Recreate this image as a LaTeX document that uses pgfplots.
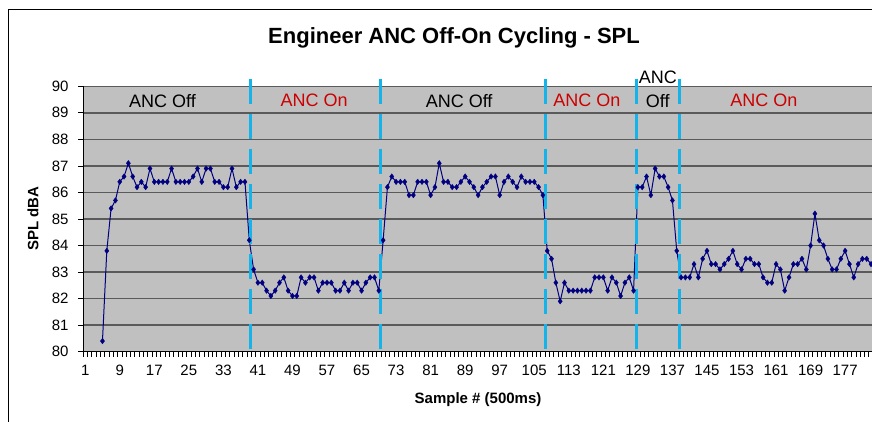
\documentclass[border=0pt]{standalone}
\usepackage{pgfplots}
\usepackage{pgfplotstable}
\pgfplotsset{compat=1.18}
\usepackage{fontspec}
\setmainfont{Liberation Sans}
\definecolor{bggray}{RGB}{192,192,192}
\definecolor{gridc}{RGB}{90,90,90}
\definecolor{navyc}{RGB}{0,0,128}
\definecolor{dashc}{RGB}{20,180,235}
\definecolor{redc}{RGB}{204,0,0}
\pgfplotstableread{
x y
5 80.4
6 83.8
7 85.4
8 85.7
9 86.4
10 86.6
11 87.1
12 86.6
13 86.2
14 86.4
15 86.2
16 86.9
17 86.4
18 86.4
19 86.4
20 86.4
21 86.9
22 86.4
23 86.4
24 86.4
25 86.4
26 86.6
27 86.9
28 86.4
29 86.9
30 86.9
31 86.4
32 86.4
33 86.2
34 86.2
35 86.9
36 86.2
37 86.4
38 86.4
39 84.2
40 83.1
41 82.6
42 82.6
43 82.3
44 82.1
45 82.3
46 82.6
47 82.8
48 82.3
49 82.1
50 82.1
51 82.8
52 82.6
53 82.8
54 82.8
55 82.3
56 82.6
57 82.6
58 82.6
59 82.3
60 82.3
61 82.6
62 82.3
63 82.6
64 82.6
65 82.3
66 82.6
67 82.8
68 82.8
69 82.3
70 84.2
71 86.2
72 86.6
73 86.4
74 86.4
75 86.4
76 85.9
77 85.9
78 86.4
79 86.4
80 86.4
81 85.9
82 86.2
83 87.1
84 86.4
85 86.4
86 86.2
87 86.2
88 86.4
89 86.6
90 86.4
91 86.2
92 85.9
93 86.2
94 86.4
95 86.6
96 86.6
97 85.9
98 86.4
99 86.6
100 86.4
101 86.2
102 86.6
103 86.4
104 86.4
105 86.4
106 86.2
107 85.9
108 83.8
109 83.5
110 82.6
111 81.9
112 82.6
113 82.3
114 82.3
115 82.3
116 82.3
117 82.3
118 82.3
119 82.8
120 82.8
121 82.8
122 82.3
123 82.8
124 82.6
125 82.1
126 82.6
127 82.8
128 82.3
129 86.2
130 86.2
131 86.6
132 85.9
133 86.9
134 86.6
135 86.6
136 86.2
137 85.7
138 83.8
139 82.8
140 82.8
141 82.8
142 83.3
143 82.8
144 83.5
145 83.8
146 83.3
147 83.3
148 83.1
149 83.3
150 83.5
151 83.8
152 83.3
153 83.1
154 83.5
155 83.5
156 83.3
157 83.3
158 82.8
159 82.6
160 82.6
161 83.3
162 83.1
163 82.3
164 82.8
165 83.3
166 83.3
167 83.5
168 83.1
169 84.0
170 85.2
171 84.2
172 84.0
173 83.5
174 83.1
175 83.1
176 83.5
177 83.8
178 83.3
179 82.8
180 83.3
181 83.5
182 83.5
183 83.3
}\spldata
\begin{document}
\begin{tikzpicture}[x=1pt,y=1pt]
\path[use as bounding box, clip] (0,0) rectangle (872,422);
\fill[white] (0,0) rectangle (872,422);
\draw[black, line width=1pt] (8.3,-2) -- (8.3,412.7) -- (880,412.7);
\node[font=\fontsize{22}{24}\selectfont\bfseries] at (454,384) {Engineer ANC Off-On Cycling - SPL};
\begin{axis}[
  scale only axis,
  at={(83.04pt,70.3pt)}, anchor=south west,
  width=798.8pt, height=265.4pt,
  xmin=0.5, xmax=185.5, ymin=80, ymax=90,
  clip=false,
  axis x line*=bottom, axis y line*=left,
  axis line style={black, line width=1pt, -},
  axis background/.style={fill=bggray},
  ytick={80,81,...,90},
  ymajorgrids,
  major grid style={gridc, line width=1.4pt},
  xtick={0.5,1.5,...,185.5},
  xticklabels={},
  tick align=outside,
  major tick length=5pt,
  tick style={black, line width=0.8pt},
  extra x ticks={1,9,...,177},
  extra x tick labels={1,9,17,25,33,41,49,57,65,73,81,89,97,105,113,121,129,137,145,153,161,169,177},
  extra x tick style={tickwidth=0pt},
  /pgf/number format/assume math mode=true,
  tick label style={font=\fontsize{15}{17}\selectfont},
  xticklabel style={yshift=-10pt},
  yticklabel style={xshift=-6pt},
  xlabel={Sample \# (500ms)},
  ylabel={SPL dBA},
  every axis x label/.style={at={(axis description cs:0.4945,-0.182)}, anchor=center, font=\fontsize{15}{17}\selectfont\bfseries},
  every axis y label/.style={at={(axis description cs:-0.0626,0.502)}, rotate=90, anchor=center, font=\fontsize{15}{17}\selectfont\bfseries},
]
\addplot[navyc, line width=1pt, mark=diamond*, mark size=2.8pt, mark options={solid, fill=navyc, draw=navyc, line width=0.3pt}] table[x=x, y=y] {\spldata};
\addplot[dashc, line width=3pt, dash pattern=on 25pt off 10pt, forget plot] coordinates {(39.3,90.29) (39.3,80)};
\addplot[dashc, line width=3pt, dash pattern=on 25pt off 10pt, forget plot] coordinates {(69.4,90.29) (69.4,80)};
\addplot[dashc, line width=3pt, dash pattern=on 25pt off 10pt, forget plot] coordinates {(107.7,90.29) (107.7,80)};
\addplot[dashc, line width=3pt, dash pattern=on 25pt off 10pt, forget plot] coordinates {(128.7,90.29) (128.7,80)};
\addplot[dashc, line width=3pt, dash pattern=on 25pt off 10pt, forget plot] coordinates {(138.6,90.29) (138.6,80)};
\node[font=\fontsize{18}{20}\selectfont, black] at (axis cs:18.9,89.46) {ANC Off};
\node[font=\fontsize{18}{20}\selectfont, redc] at (axis cs:54.0,89.46) {ANC On};
\node[font=\fontsize{18}{20}\selectfont, black] at (axis cs:87.6,89.46) {ANC Off};
\node[font=\fontsize{18}{20}\selectfont, redc] at (axis cs:117.2,89.46) {ANC On};
\node[font=\fontsize{18}{20}\selectfont, black] at (axis cs:133.6,90.35) {ANC};
\node[font=\fontsize{18}{20}\selectfont, black] at (axis cs:133.6,89.46) {Off};
\node[font=\fontsize{18}{20}\selectfont, redc] at (axis cs:158.2,89.46) {ANC On};
\end{axis}
\end{tikzpicture}
\end{document}
